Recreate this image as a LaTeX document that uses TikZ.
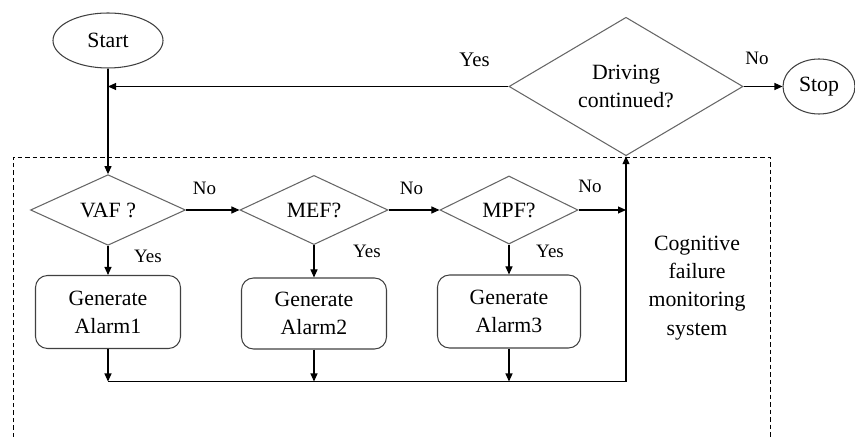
\documentclass[tikz,border=0pt]{standalone}
\usepackage{fontspec}
\setmainfont{Liberation Serif}
\usetikzlibrary{shapes.geometric,arrows.meta,positioning}

\begin{document}
\begin{tikzpicture}[x=0.2mm, y=-0.2mm,
  every text node part/.style={align=center},
  font=\fontsize{12.4}{16}\selectfont,
  line width=0.6pt,
  >={Triangle[length=1.6mm,width=1.4mm]},
  term/.style={draw=black!75, ellipse, inner sep=0pt},
  decision/.style={draw=black!60, diamond, inner sep=0pt},
  alarm/.style={draw=black!75, rounded corners=2.4mm, inner sep=0pt,
                minimum width=29mm, minimum height=14.6mm},
  lbl/.style={font=\fontsize{10.8}{12}\selectfont}]
  \useasboundingbox (0,0) rectangle (855,437);

  % monitoring block
  \draw[dashed, dash pattern=on 0.9mm off 0.6mm, line width=0.5pt]
    (13,445) -- (13,157) -- (770,157) -- (770,445);

  \node[term, minimum width=22mm, minimum height=11mm]   (start)  at (108,40.5)  {Start};
  \node[decision, minimum width=46.8mm, minimum height=21.4mm] (drive) at (626,86.5) {Driving \\ continued?};
  \node[term, minimum width=14.4mm, minimum height=11mm] (stop)   at (819,86.5)  {Stop};

  \node[decision, minimum width=31mm, minimum height=12.4mm]   (vaf) at (108,210) {VAF ?};
  \node[decision, minimum width=29.6mm, minimum height=12mm]   (mef) at (314,210) {MEF?};
  \node[decision, minimum width=27.6mm, minimum height=11.6mm] (mpf) at (509,210) {MPF?};

  \node[alarm]                           (alarm1) at (108,312)   {Generate \\ Alarm1};
  \node[alarm, minimum height=14.2mm]    (alarm2) at (314,313.5) {Generate \\ Alarm2};
  \node[alarm, minimum width=28.6mm]     (alarm3) at (509,311.5) {Generate \\ Alarm3};

  \node (cfms) at (697,288) {Cognitive \\ failure \\ monitoring \\ system};

  \coordinate (bus) at (626,381.5);

  % labels
  \node[font=\fontsize{11.8}{13}\selectfont] (yes0) at (474.5,60) {Yes};
  \node[lbl] (no0)  at (757,58.5) {No};
  \node[lbl] (no1)  at (204.5,188) {No};
  \node[lbl] (no2)  at (411.5,188) {No};
  \node[lbl] (no3)  at (590,186.5) {No};
  \node[lbl] (yes1) at (148,256.5) {Yes};
  \node[lbl] (yes2) at (367,251) {Yes};
  \node[lbl] (yes3) at (550,251) {Yes};

  \path[->]
  (start)  edge (vaf)
  (drive)  edge (stop)
  (vaf)    edge (mef)
  (mef)    edge (mpf)
  (vaf)    edge (alarm1)
  (mef)    edge (alarm2)
  (mpf)    edge (alarm3);

  \draw[->] (drive.west) -- (drive.west -| start.south);
  \draw[->] (mpf.east) -- (mpf.east -| drive.south);
  \draw[->] (alarm1.south) -- (alarm1.south |- bus);
  \draw[->] (alarm2.south) -- (alarm2.south |- bus);
  \draw[->] (alarm3.south) -- (alarm3.south |- bus);
  \draw[->] (alarm1.south |- bus) -- (bus) -- (drive.south);
\end{tikzpicture}
\end{document}
